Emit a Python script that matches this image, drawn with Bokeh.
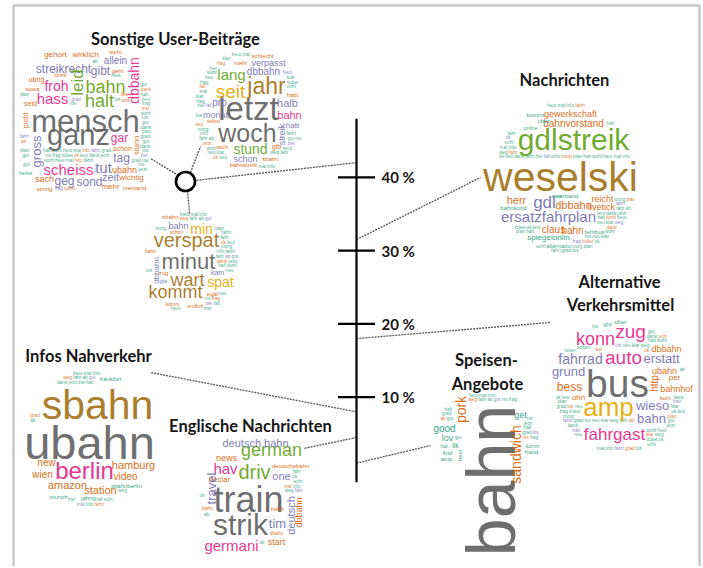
import math
from bokeh.plotting import figure
from bokeh.models import Range1d, ColumnDataSource
from bokeh.core.properties import value
from bokeh.embed import file_html
from bokeh.resources import INLINE

# ---------------- data ----------------
categories = ["Sonstige User-Beiträge", "Nachrichten", "Alternative Verkehrsmittel",
              "Infos Nahverkehr", "Englische Nachrichten", "Speisen-Angebote"]
shares = [42.0, 31.5, 18.0, 8.0, 4.5, 1.0]          # percent of posts
tick_values = [10, 20, 30, 40]
tick_labels = ["10 %", "20 %", "30 %", "40 %"]

# word clouds: words and weights (weight = relative frequency, drawn as font size)
sa_words = ["mensch", "ganz", "halt", "bahn", "leid", "dbbahn", "froh", "hass", "streikrecht", "gibt",
            "allein", "gross", "gar", "tag", "scheiss", "tut", "zeit", "geg", "sond", "ubahn",
            "wichtig", "mehr", "sach", "gehort", "wirklich", "sieht", "ubrig", "sowa", "seid", "schon",
            "sbahn", "probl", "einzig", "niemand", "geht", "streik", "les", "unt", "heisst"]
sa_weights = [31, 29, 18, 18, 17, 14, 14, 15, 12, 12, 10, 13, 12, 12, 15, 15, 11, 12, 12, 9,
              8, 8, 9, 8, 8, 6, 7, 6, 7, 7, 7, 7, 6, 6, 6, 5, 6, 6, 5]
sb_words = ["letzt", "woch", "jahr", "seit", "lang", "stund", "dbbahn", "verpasst", "schlecht", "mehr",
            "halb", "bahn", "pro", "monat", "streik", "hatt", "habt", "schon", "bahnstreik", "sbahn",
            "gib", "woh", "selbst"]
sb_weights = [33, 25, 23, 19, 15, 14, 10, 9, 6, 6, 11, 11, 10, 9, 9, 8, 6, 9, 6, 6, 7, 6, 5]
sc_words = ["minut", "verspat", "min", "wart", "spat", "kommt", "bahn", "dbbahn", "gle", "kam",
            "zug", "sbahn", "schon", "egal", "komm", "endlich", "bahn"]
sc_weights = [22, 20, 14, 18, 14, 18, 9, 8, 6, 7, 6, 6, 5, 6, 5, 5, 5]
na_words = ["weselski", "gdlstreik", "ersatzfahrplan", "gdl", "dbbahn", "herr", "reicht", "livetick",
            "claus", "bahn", "gewerkschaft", "bahnvorstand", "spiegelonlin", "alternativ", "fernbus",
            "bahnkund", "uber", "kommt", "online", "verband", "neu"]
na_weights = [41, 30, 15, 17, 11, 11, 9, 9, 10, 10, 9, 10, 8, 6, 6, 6, 6, 6, 5, 6, 6]
av_words = ["bus", "amp", "fahrgast", "konn", "zug", "auto", "fahrrad", "erstatt", "grund", "wieso",
            "bahn", "bess", "ohn", "dbbahn", "ubahn", "per", "bahnhof", "http", "koln", "tot",
            "gut", "uber", "schon"]
av_weights = [39, 26, 17, 18, 19, 19, 14, 13, 13, 13, 13, 12, 8, 9, 9, 8, 9, 10, 6, 6, 6, 6, 5]
sp_words = ["bahn", "sandwich", "pork", "good", "lov", "get", "lik", "find", "amp", "best", "hand", "komm"]
sp_weights = [68, 14, 14, 10, 9, 9, 7, 6, 6, 6, 6, 5]
in_words = ["ubahn", "sbahn", "berlin", "hamburg", "video", "new", "wien", "amazon", "station",
            "munch", "jahrig", "sbahnberlin", "frankfurt"]
in_weights = [47, 41, 24, 11, 10, 10, 10, 11, 11, 6, 6, 6, 6]
en_words = ["train", "strik", "german", "driv", "germani", "hav", "deutsch bahn", "one", "tim", "travel",
            "deutsch", "dbbahn", "news", "declar", "deutschebahn", "start", "fresh", "sbahn", "bahn"]
en_weights = [36, 30, 18, 20, 15, 15, 11, 11, 13, 13, 11, 9, 9, 8, 6, 9, 6, 5, 5]

# ---------------- layout / style ----------------
DARK2 = ["#1B9E77", "#D95F02", "#7570B3", "#E7298A", "#66A61E", "#E6AB02", "#A6761D", "#666666"]
W, H = 701, 566
AXIS_ZERO_PX, PX_PER_PCT = 470.0, 7.33
PCT_HI = AXIS_ZERO_PX / PX_PER_PCT
PCT_LO = (AXIS_ZERO_PX - H) / PX_PER_PCT
AXIS_X, AXIS_MIN, AXIS_MAX = 356, -1.6, 48.0
TICK_HALF = 18.5


def px_to_pct(y):
    return (AXIS_ZERO_PX - y) / PX_PER_PCT


# per word: (x, y, colour tier, vertical?)
sa_pos = [(85, 121, 7, 0), (78, 134, 7, 0), (99, 100, 4, 0), (105, 86, 4, 0), (77, 82, 4, 1),
          (133, 80, 3, 1), (56, 85, 3, 0), (52, 98, 3, 0), (63, 68, 2, 0), (100, 70, 2, 0),
          (115, 60, 2, 0), (36, 151, 2, 1), (119, 137, 3, 0), (121, 157, 2, 0), (68, 169, 3, 0),
          (103, 167, 2, 0), (110, 176, 2, 0), (64, 180, 2, 0), (89, 181, 2, 0), (124, 169, 1, 0),
          (131, 177, 1, 0), (110, 186, 1, 0), (44, 178, 1, 0), (55, 54, 1, 0), (85, 54, 1, 0),
          (115, 51, 1, 0), (36, 79, 1, 0), (32, 88, 1, 0), (30, 103, 1, 0), (122, 148, 1, 0),
          (136, 145, 1, 1), (25, 120, 1, 1), (44, 188, 1, 0), (134, 187, 1, 0), (117, 70, 1, 0),
          (60, 74, 1, 0), (124, 93, 1, 0), (125, 99, 1, 0), (25, 172, 0, 0)]
sb_pos = [(248, 108, 7, 0), (247, 132, 7, 0), (266, 85, 6, 0), (230, 91, 5, 0), (231, 74, 4, 0),
          (250, 148, 4, 0), (263, 71, 2, 0), (268, 62, 2, 0), (262, 55, 1, 0), (240, 62, 1, 0),
          (287, 102, 2, 0), (289, 114, 3, 0), (219, 102, 2, 0), (215, 114, 2, 0), (281, 134, 2, 1),
          (292, 125, 2, 0), (292, 94, 1, 0), (245, 158, 2, 0), (243, 164, 1, 0), (270, 158, 1, 0),
          (276, 146, 1, 0), (222, 146, 1, 0), (213, 120, 1, 0)]
sc_pos = [(188, 261, 7, 0), (186, 239, 6, 0), (201, 228, 5, 0), (187, 279, 6, 0), (220, 281, 5, 0),
          (175, 291, 6, 0), (178, 225, 2, 0), (156, 270, 2, 1), (163, 280, 2, 0), (217, 272, 2, 0),
          (163, 272, 1, 0), (170, 216, 1, 0), (176, 231, 1, 0), (212, 293, 1, 0), (172, 303, 1, 0),
          (195, 305, 1, 0), (150, 250, 1, 0)]
na_pos = [(560, 176, 6, 0), (573, 139, 4, 0), (548, 216, 2, 0), (544, 202, 2, 0), (573, 204, 1, 0),
          (516, 199, 1, 0), (602, 198, 1, 0), (601, 206, 1, 0), (553, 229, 1, 0), (572, 230, 1, 0),
          (570, 113, 1, 0), (573, 123, 1, 0), (548, 237, 0, 0), (558, 245, 0, 0), (594, 231, 0, 0),
          (513, 207, 0, 0), (543, 120, 0, 0), (535, 114, 0, 0), (530, 127, 0, 0), (567, 195, 0, 0),
          (556, 195, 0, 0)]
av_pos = [(617, 383, 7, 0), (608, 406, 5, 0), (614, 434, 3, 0), (595, 338, 3, 0), (630, 331, 3, 0),
          (623, 357, 3, 0), (580, 358, 2, 0), (661, 358, 2, 0), (568, 371, 2, 0), (652, 405, 2, 0),
          (651, 418, 2, 0), (569, 386, 1, 0), (578, 397, 1, 0), (666, 348, 1, 0), (664, 370, 1, 0),
          (674, 377, 1, 0), (676, 388, 1, 0), (654, 383, 1, 1), (665, 397, 1, 0), (598, 348, 1, 0),
          (607, 323, 0, 0), (620, 321, 0, 0), (583, 346, 0, 0)]
sp_pos = [(490, 480, 7, 1), (515, 454, 1, 1), (460, 409, 1, 1), (444, 428, 0, 0), (447, 437, 0, 0),
          (520, 414, 0, 0), (455, 445, 0, 0), (447, 452, 0, 0), (446, 458, 0, 0), (459, 455, 0, 1),
          (531, 451, 0, 0), (532, 445, 0, 0)]
in_pos = [(89, 442, 7, 0), (97, 404, 6, 0), (84, 470, 3, 0), (133, 464, 1, 0), (125, 476, 1, 0),
          (46, 462, 1, 0), (42, 474, 1, 0), (67, 484, 1, 0), (100, 489, 1, 0), (58, 496, 0, 0),
          (88, 497, 0, 0), (126, 485, 0, 0), (110, 378, 0, 0)]
en_pos = [(248, 499, 7, 0), (240, 524, 7, 0), (271, 449, 4, 0), (254, 471, 4, 0), (231, 545, 3, 0),
          (225, 468, 3, 0), (255, 442, 2, 0), (281, 475, 2, 0), (277, 523, 2, 0), (211, 488, 2, 1),
          (290, 515, 2, 1), (298, 512, 1, 1), (226, 457, 1, 0), (219, 479, 1, 0), (290, 465, 1, 0),
          (276, 541, 1, 0), (277, 508, 1, 0), (276, 532, 1, 0), (207, 507, 1, 0)]

# cloud outline used for the tiny background words: (cx, cy, rx, ry, exponent)
clouds = [
    (sa_words, sa_weights, sa_pos, (85, 121, 66, 72, 3.5)),
    (sb_words, sb_weights, sb_pos, (250, 111, 56, 60, 2.2)),
    (sc_words, sc_weights, sc_pos, (191, 262, 46, 51, 2.2)),
    (na_words, na_weights, na_pos, (565, 177, 72, 75, 2.0)),
    (av_words, av_weights, av_pos, (621, 386, 68, 67, 2.0)),
    (sp_words, sp_weights, sp_pos, (486, 432, 52, 40, 2.0)),
    (in_words, in_weights, in_pos, (90, 438, 64, 68, 2.0)),
    (en_words, en_weights, en_pos, (253, 494, 54, 58, 2.0)),
]

CW = {'a': .556, 'b': .556, 'c': .5, 'd': .556, 'e': .556, 'f': .278, 'g': .556, 'h': .556, 'i': .222,
      'j': .222, 'k': .5, 'l': .222, 'm': .833, 'n': .556, 'o': .556, 'p': .556, 'q': .556, 'r': .333,
      's': .5, 't': .278, 'u': .556, 'v': .5, 'w': .722, 'x': .5, 'y': .5, 'z': .5, ' ': .278}


def text_w(word, size):
    return sum(CW.get(c, .556) for c in word) * size


def bbox(word, size, x, y, vert):
    w = text_w(word, size)
    if vert:
        return (x - 0.42 * size, x + 0.45 * size, y - w / 2, y + w / 2)
    return (x - w / 2, x + w / 2, y - 0.42 * size, y + 0.45 * size)


def overlap(a, b):
    return not (a[1] < b[0] or b[1] < a[0] or a[3] < b[2] or b[3] < a[2])


FILL_WORDS = ["heut", "mal", "info", "fahrt", "grad", "los", "neu", "klar", "weg", "fahr", "ab",
              "gut", "nix", "frag", "ticket", "ok", "leut", "dank", "jetzt", "ziel", "fall", "echt",
              "morg", "plan", "halt", "wohl"]
FILL_SIZE = 4.8


def filler(shape, boxes):
    cx, cy, rx, ry, ex = shape
    out = []
    y = cy - ry + 2.5
    row, k = 0, 0
    while y <= cy + ry - 1.5:
        t = min(abs(y - cy) / ry, 1.0)
        hw = rx * (1 - t ** ex) ** (1 / ex)
        x = cx - hw + (row % 3) * 1.3
        while x < cx + hw - 3:
            word = FILL_WORDS[(k + row * 5) % len(FILL_WORDS)]
            w = text_w(word, FILL_SIZE)
            if x + w > cx + hw + 1:
                break
            b = (x - 0.3, x + w + 0.3, y - 2.2, y + 2.2)
            if any(overlap(b, bb) for bb in boxes):
                x += 2.5
                continue
            if k % 8 == 3:
                col = DARK2[1]
            elif k % 11 == 6:
                col = DARK2[2]
            else:
                col = DARK2[0]
            out.append((word, x + w / 2, y, col))
            x += w + 1.1
            k += 1
        y += 4.7
        row += 1
    return out


# ---------------- figure ----------------
p = figure(width=W, height=H, x_range=Range1d(0, W), y_range=Range1d(PCT_LO, PCT_HI),
           x_axis_type=None, y_axis_type=None, output_backend="svg", toolbar_location=None,
           min_border=0, background_fill_color="white", border_fill_color="white")
p.outline_line_color = None
p.grid.visible = False
p.extra_y_ranges = {"px": Range1d(H, 0)}

# frame
p.multi_line(xs=[[13, 13, 699, 699]], ys=[[H, 5, 5, H]], line_color="#c8c8c8",
             line_width=2.5, y_range_name="px")

# background filler words + cloud words
fx, fy, ft, fc = [], [], [], []
hx, hy, ht, hs, hc = [], [], [], [], []
vx, vy, vt, vs, vc = [], [], [], [], []
for words, weights, pos, shape in clouds:
    boxes = []
    for wd, wt, (x, y, tier, vert) in zip(words, weights, pos):
        boxes.append(bbox(wd, wt, x, y, vert))
        if vert:
            vx.append(x); vy.append(y); vt.append(wd); vs.append(f"{wt}px"); vc.append(DARK2[tier])
        else:
            hx.append(x); hy.append(y); ht.append(wd); hs.append(f"{wt}px"); hc.append(DARK2[tier])
    for wd, x, y, col in filler(shape, boxes):
        fx.append(x); fy.append(y); ft.append(wd); fc.append(col)

p.text(x=fx, y=fy, text=ft, text_color=fc, text_font=value("Liberation Sans"),
       text_font_size=f"{FILL_SIZE}px", text_align="center", text_baseline="middle",
       text_alpha=0.85, y_range_name="px")
p.text(x="x", y="y", text="t", text_color="c", text_font_size="s",
       source=ColumnDataSource(dict(x=hx, y=hy, t=ht, s=hs, c=hc)),
       text_font=value("Liberation Sans"), text_align="center", text_baseline="middle",
       text_alpha=0.95, y_range_name="px")
p.text(x="x", y="y", text="t", text_color="c", text_font_size="s", angle=math.pi / 2,
       source=ColumnDataSource(dict(x=vx, y=vy, t=vt, s=vs, c=vc)),
       text_font=value("Liberation Sans"), text_align="center", text_baseline="middle",
       text_alpha=0.95, y_range_name="px")

# titles
title_x = [175, 564, 619, 620, 486, 487, 88, 250]
title_y = [38, 79, 281, 304, 359, 383, 355, 425]
title_t = ["Sonstige User-Beiträge", "Nachrichten", "Alternative", "Verkehrsmittel",
           "Speisen-", "Angebote", "Infos Nahverkehr", "Englische Nachrichten"]
p.text(x=title_x, y=title_y, text=title_t, text_font=value("Lato"), text_font_style="bold",
       text_font_size="16.5px", text_color="#161616", text_align="center", text_baseline="middle",
       y_range_name="px")

# connectors: cluster anchor (px) -> share on the axis (pct)
anchor_x = [194, 480, 550, 150, 303, 430]
anchor_y = [180, 177, 322, 372, 448, 445]
p.segment(x0=[AXIS_X] * len(shares), y0=shares, x1=anchor_x, y1=[px_to_pct(v) for v in anchor_y],
          line_color="#555555", line_width=1.3, line_dash="2 1")
# hub of the "Sonstige" group
p.segment(x0=[178, 190, 187], y0=[175, 172, 190], x1=[150, 200, 189], y1=[158, 146, 213],
          line_color="#555555", line_width=1.3, line_dash="2 1", y_range_name="px")
p.scatter(x=[185], y=[181], marker="circle", size=19, fill_color="white", line_color="black",
          line_width=2.6, y_range_name="px")

# percent axis
p.segment(x0=[AXIS_X], y0=[AXIS_MIN], x1=[AXIS_X], y1=[AXIS_MAX], line_color="black", line_width=2.2)
p.segment(x0=[AXIS_X - TICK_HALF] * 4, y0=tick_values, x1=[AXIS_X + TICK_HALF] * 4, y1=tick_values,
          line_color="black", line_width=2.2)
p.text(x=[381] * 4, y=tick_values, text=tick_labels, text_font=value("Lato"), text_font_style="bold",
       text_font_size="15px", text_color="#161616", text_align="left", text_baseline="middle")

open("out.html", "w").write(file_html(p, INLINE))
